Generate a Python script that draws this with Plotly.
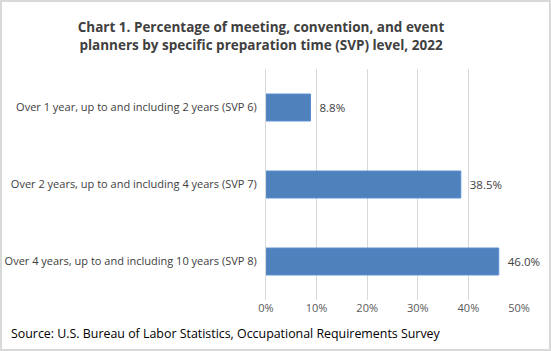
import plotly.graph_objects as go

categories = [
    "Over 1 year, up to and including 2 years (SVP 6)",
    "Over 2 years, up to and including 4 years (SVP 7)",
    "Over 4 years, up to and including 10 years (SVP 8)",
]
values = [8.8, 38.5, 46.0]
tick_vals = [0, 10, 20, 30, 40, 50]
tick_text = ["0%", "10%", "20%", "30%", "40%", "50%"]

W, H = 551, 351
L, R, T, B = 266, 32, 69, 51
PW, PH = W - L - R, H - T - B

fig = go.Figure(go.Bar(
    x=values, y=categories, orientation="h",
    marker=dict(color="#4F81BD", line=dict(color="#5B8FD3", width=1)),
    width=0.35,
    text=[f"\u00a0\u00a0{v:.1f}%" for v in values], textposition="outside",
    textfont=dict(family="Open Sans", size=11.5, color="#404040"),
    cliponaxis=False,
))

fig.update_layout(
    width=W, height=H, margin=dict(l=L, r=R, t=T, b=B, autoexpand=False),
    paper_bgcolor="white", plot_bgcolor="white",
    showlegend=False,
    title=dict(
        text="Chart 1. Percentage of meeting, convention, and event<br>planners by specific preparation time (SVP) level, 2022",
        x=261 / W, xref="container", xanchor="center",
        y=1 - 32 / H, yanchor="middle",
        font=dict(family="Open Sans", size=13.5, color="#404040", weight="bold"),
    ),
    xaxis=dict(
        range=[0, 50], tickvals=tick_vals, ticktext=tick_text,
        showgrid=True, gridcolor="#D9D9D9", gridwidth=1,
        zeroline=False, showline=False, ticks="", automargin=False,
        tickfont=dict(family="Open Sans", size=11, color="#595959"),
        fixedrange=True,
    ),
    yaxis=dict(
        autorange="reversed", showgrid=False, zeroline=False,
        showline=True, linecolor="#D9D9D9", ticks="", automargin=False,
        tickfont=dict(family="Open Sans", size=11, color="#404040"),
        ticklabelstandoff=6,
    ),
    shapes=[dict(type="rect", xref="paper", yref="paper",
                 x0=-(L - 1) / PW, x1=1 + (R - 1) / PW,
                 y0=-(B - 1) / PH, y1=1 + (T - 1) / PH,
                 line=dict(color="#D9D9D9", width=2), layer="below")],
    annotations=[dict(
        text="Source: U.S. Bureau of Labor Statistics, Occupational Requirements Survey",
        xref="paper", yref="paper",
        x=-(L - 9) / PW, y=-(333 - (H - B)) / PH,
        xanchor="left", yanchor="middle", showarrow=False,
        font=dict(family="Open Sans", size=12.4, color="black"),
    )],
)

fig.write_html("out.html")
